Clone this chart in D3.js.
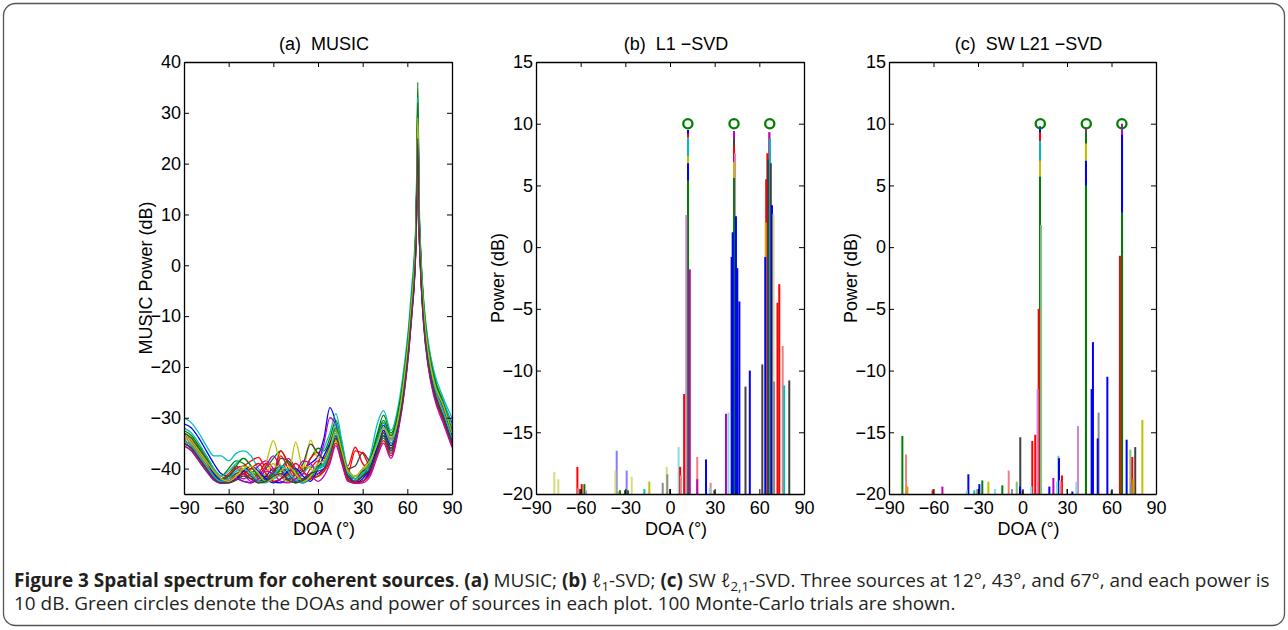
<!DOCTYPE html>
<html><head><meta charset="utf-8">
<script src="https://cdn.jsdelivr.net/npm/d3@7"></script>
<style>body{margin:0;background:#fff}svg{display:block}</style>
</head><body>
<svg id="fig" width="1288" height="630"></svg>
<script>
// ---------------- DATA ----------------
const doaTicks = [-90, -60, -30, 0, 30, 60, 90];
const musicYTicks = [-40, -30, -20, -10, 0, 10, 20, 30, 40];
const powerYTicks = [-20, -15, -10, -5, 0, 5, 10, 15];
const panelTitles = ["(a)  MUSIC", "(b)  L1 \u2212SVD", "(c)  SW L21 \u2212SVD"];
const yLabels = ["MUSIC Power (dB)", "Power (dB)", "Power (dB)"];
const xLabel = "DOA (\u00b0)";
const sourceDOAs = [12, 43, 67];
const sourcePower = [10, 10, 10];

// MUSIC spectrum sampling grid (deg)
const musicGrid = [-90,-85,-80,-75,-70,-65,-60,-55,-50,-45,-40,-35,-30,-25,-20,-15,-10,-5,0,
  4,8,12,16,20, 25,30,35,40, 44,49,54,58,61,63,65,66,67,68,69,71,74,78,84,90];
const musicColorKeys = ["b","g","r","c","m","y","k","b","g","r","c","m","y","k","b","g","r","c","m","y","k"];
const musicTrials = [
 [-31.2,-32,-34,-36.5,-39,-41,-41.5,-40,-39.5,-41,-42.5,-41.5,-40,-41.5,-42.5,-41,-40,-39,-37.5, -34,-28,-31,-37,-41, -42.5,-41,-38,-34, -31.5,-34.5,-29.5,-21.5,-13.5,-6.5,1.5,9.5,30,9.5,1.5,-8.5,-16.5,-22.5,-27,-31],
 [-32.5,-33.5,-35.5,-37.5,-40,-41.5,-40,-38.5,-39,-40.5,-41.5,-40,-38,-36.5,-39,-41,-40.5,-38,-36, -36.5,-34,-30.5,-35,-40.5, -41.5,-40,-38,-33, -29.5,-33,-28.5,-20.5,-12.5,-5.5,2.5,10.5,36,10.5,2.5,-7.5,-15.5,-21.5,-28.5,-32],
 [-34,-35,-37,-39,-41,-42,-41.5,-40,-39.5,-38.5,-37.8,-40,-41,-37.5,-40,-42,-41,-38,-36.8, -38.5,-36,-32.5,-36.5,-39.5, -35.8,-39,-40,-35.5, -33,-36,-31,-23,-15,-8,0,8,29,7,-1,-10,-18,-24,-28.5,-33.5],
 [-30,-31,-33,-35.5,-37.5,-37.5,-38.5,-37,-36.5,-37.5,-40,-41.5,-42,-41,-40,-41.5,-42.5,-41,-39, -36,-33,-29.2,-34.5,-40, -41.5,-40.5,-37.5,-31, -28.6,-32.5,-27.5,-19.5,-11.5,-4,4,12,33,12,3,-7,-15,-21,-26,-30],
 [-34.5,-35.5,-37.5,-39.5,-41.5,-42.5,-42,-41.5,-42,-41,-39.5,-38.5,-40,-41.5,-38,-40,-42.5,-41.5,-39, -35,-30,-31.5,-36.5,-41, -42.5,-42.5,-40,-35.5, -32,-33.5,-30.5,-22.5,-14.5,-7.5,0.5,8.5,31.5,8.5,0,-9.5,-17.5,-23.5,-28.5,-34],
 [-33,-34,-36,-38,-40,-41.5,-42,-41,-40,-41.5,-42,-39,-34.5,-39.5,-41.5,-34.8,-40,-34.4,-38, -38,-35,-32,-36,-40.5, -41.5,-40.5,-38.5,-34.5, -32,-34.5,-30,-22,-14,-7,1,9,28,9,1,-9,-17,-23,-27.5,-32.5],
 [-33.5,-34.5,-36.5,-38.5,-40.5,-42,-42.5,-42,-41,-40,-41,-42,-41,-38,-38.5,-41,-39,-35.2,-37, -38,-35.5,-32.5,-36.5,-40, -39.5,-36.8,-38.5,-34, -31,-34,-29.5,-21.5,-13.5,-6.5,1.5,9.5,27,9.5,1.5,-8.5,-16.5,-22.5,-27.5,-32.5],
 [-35,-36,-38,-40,-42,-42.8,-42.5,-42,-42.5,-42.8,-42,-41.5,-42.5,-42.8,-42,-42.5,-42.8,-42,-41, -40,-37.5,-34,-38,-42, -42.8,-42.5,-40.5,-36, -33.5,-36.5,-31.5,-24,-16,-9,-1,7,26,7,-1,-11,-19,-25,-29.5,-35],
 [-35.5,-36.5,-38.5,-40.5,-42,-42.9,-42.6,-41.5,-41,-42,-42.8,-42.3,-41,-40.5,-42,-42.8,-42.3,-41.5,-41.5, -40.5,-38,-34.5,-38.5,-42.3, -42.9,-42.5,-41,-36.5, -34,-37,-32,-24.5,-16.5,-9.5,-1.5,6.5,25,6.5,-1.5,-11.5,-19.5,-25.5,-30,-35.5],
 [-33,-34,-36,-38,-40.5,-42,-41,-39.5,-40.5,-42,-41,-39,-40.5,-36.5,-39,-41.5,-42,-40,-38.5, -39.5,-37,-33.5,-38,-41, -36.5,-37,-39.5,-35, -32.5,-35,-30.5,-22.5,-14.5,-7.5,0.5,8.5,28,8.5,0.5,-9.5,-17.5,-23.5,-28,-33],
 [-32,-33,-35,-37.5,-40,-41.5,-40.5,-39,-38,-39.5,-41.5,-42.3,-41.5,-40,-41.5,-42.3,-41,-39.5,-40, -39.5,-36.5,-31,-36,-40.5, -42,-41.5,-39,-34, -31,-34,-29,-21,-13,-6,2,10,30,10,2,-8,-16,-22,-26.5,-31.5],
 [-34,-35,-37,-39,-41,-42.3,-41.5,-40,-41,-42.5,-41.5,-39.5,-37.5,-40,-42.3,-41,-38.5,-39,-41, -40.5,-38,-34,-37.5,-41.5, -42.5,-41.5,-40,-35.5, -32.5,-34,-30.5,-22.5,-14.5,-7.5,0.5,8.5,27,8.5,0.5,-9.5,-17.5,-23.5,-28.5,-34.5],
 [-34,-35,-37,-39,-41,-42.5,-42,-40.5,-39.5,-40.5,-42.3,-41,-39,-41.5,-42.5,-41.5,-39.5,-40,-41.5, -40.5,-38,-34.5,-38,-41.5, -42.5,-41,-39.5,-35.5, -33,-35.5,-31,-23.5,-15.5,-8.5,-0.5,7.5,26,7.5,-0.5,-10.5,-18.5,-24.5,-29,-34],
 [-34.5,-35.5,-37.5,-39.5,-41.5,-42.5,-42,-41,-40.5,-41.5,-42.5,-42,-40.5,-39.5,-41,-42.5,-42,-41,-40, -39,-37,-33.5,-37.5,-41.5, -42,-40.5,-39.5,-36, -33,-36.5,-31,-23.5,-15.5,-8.5,-0.5,7.5,26,7.5,-0.5,-10.5,-18.5,-24.5,-29.5,-34.5],
 [-33.5,-34.5,-36.5,-38.5,-41,-42.5,-42.8,-42,-40.5,-39.5,-40.5,-42,-42.8,-42,-40.5,-40,-41.5,-42.5,-40, -37.5,-35,-32.5,-36.5,-41, -42.8,-42,-40,-35.5, -32.5,-35.5,-30.5,-22.5,-14.5,-7.5,0.5,8.5,29,8.5,0.5,-9.5,-17.5,-23.5,-28,-33.5],
 [-33,-34,-36,-38,-40.5,-42,-41.5,-39.5,-38,-39.5,-41.5,-42.5,-42,-40,-38.5,-40.5,-42.5,-42,-39.5, -39,-36,-32,-36,-40.5, -42,-41.5,-38.5,-33.5, -30.5,-33.5,-28.5,-21,-13,-6,2,10,32,10,2,-8,-16,-22,-27,-32.5],
 [-35,-36,-38,-40,-42,-42.8,-42.5,-41.5,-41,-40,-39,-41,-42.5,-42,-41,-39,-40.5,-42,-41.5, -40.5,-38.5,-35,-38.5,-42, -42.8,-42.5,-41,-37, -34.5,-37.5,-32,-24.5,-16.5,-9.5,-1.5,6.5,24,6.5,-1.5,-11.5,-19.5,-25.5,-30.5,-35.5],
 [-34.5,-35.5,-37.5,-39.5,-41.5,-42.5,-42,-40.5,-40,-41,-42.5,-42.8,-41.5,-39.5,-40.5,-42.3,-42.8,-41.5,-40, -39,-37,-33,-37,-41, -42,-41,-39,-34.5, -32,-35,-30,-22.5,-14.5,-7.5,0.5,8.5,28,8.5,0.5,-9.5,-17.5,-23.5,-28.5,-34],
 [-35.5,-36.5,-38.5,-40.5,-42.3,-42.9,-42.5,-42,-42.5,-42.8,-42,-40.5,-41,-42.5,-42.8,-42,-41,-41.5,-42.5, -41.5,-39,-35.5,-39,-42.5, -42.9,-42.8,-41.5,-37.5, -35,-38,-32.5,-25,-17,-10,-2,6,24,6,-2,-12,-20,-26,-31,-35.8],
 [-33.5,-34.5,-36.5,-38.5,-40.5,-42,-42.5,-41.5,-40,-39.5,-41,-42.5,-42,-40.5,-39.5,-41,-42.5,-41.5,-39, -38.5,-36,-32.5,-36.5,-40.5, -41.5,-40,-38.5,-35, -32,-34,-30,-22,-14,-7,1,9,29,9,1,-9,-17,-23,-27.5,-33],
 [-35,-36,-38,-40,-42,-42.8,-42.8,-42.3,-41.5,-42,-42.8,-42.5,-41.5,-41,-42.3,-42.8,-42.3,-41,-40.5, -40,-37.5,-34,-37.5,-41.5, -42.5,-41.5,-40,-36.5, -33.5,-36,-31.5,-24,-16,-9,-1,7,25,7,-1,-11,-19,-25,-30,-35]
];

// L1-SVD spectra: [DOA, power dB, colour key]
const l1Stems = [
 [-77.7,-18.2,"ly"],[-75,-18.8,"ly"],[-62.2,-17.8,"r"],[-61.6,-19.5,"pr"],[-60.4,-19.6,"k"],[-59.3,-19.2,"r"],
 [-57.5,-19.2,"g"],[-56.4,-19.7,"lm"],[-36.7,-18.1,"ly"],[-35.8,-16.5,"lb"],[-34.7,-19.8,"y"],[-33.6,-19.7,"g"],
 [-30.2,-19.7,"k"],[-29.1,-18.1,"lb"],[-28.2,-19.7,"g"],[-25.7,-18.6,"ly"],[-17.2,-19.6,"c"],[-13.9,-19,"y"],
 [-4.9,-19.1,"gr"],[-2.2,-17.8,"ly"],[-1.8,-18.4,"gr"],[0,-19.6,"k"],[5.8,-16.2,"lc"],[6.8,-17.8,"r"],[7.3,-18.5,"pr"],
 [9.5,-11.9,"r"],[10.9,2.6,"lm"],[12.1,9.5,"b"],[12.1,9.2,"r"],[12.1,8.9,"c"],[12.1,7.4,"y"],[12.1,6.8,"b"],[12.1,5.4,"g"],
 [13.3,-1.8,"m"],[18.3,-17,"pr"],[18.3,-18.8,"m"],[24.2,-17.2,"b"],[26.7,-19.5,"lc"],[27.3,-19.1,"pr"],[29.8,-19.7,"k"],
 [37.6,-13.5,"m"],[39.2,-13.4,"lc"],[41.4,-0.8,"b"],[42.1,1.2,"b"],[43,9.4,"m"],[43,8.8,"k"],[43,8.2,"r"],[43,6.9,"y"],
 [43,5.6,"g"],[43.7,7.6,"lm"],[44.3,2.5,"b"],[45.2,-1.7,"b"],[46.6,-4.4,"b"],[50.7,-11.3,"k"],[53.6,-10,"b"],
 [62,-9.5,"k"],[64,-0.8,"b"],[64.3,2,"o"],[64.6,5.5,"r"],[65.4,7.6,"r"],[65.8,7.1,"k"],[66.5,9.3,"pr"],[66.8,9.3,"m"],
 [67.2,8.8,"c"],[67.7,6.8,"k"],[68.5,3.4,"b"],[69.5,2.7,"ly"],[69.9,-10.9,"gr"],[72.2,-4.5,"r"],[73.4,-3,"r"],
 [75.7,-8,"pr"],[76.7,-11.2,"c"],[80.1,-10.8,"k"]
];

// SW L21-SVD spectra: [DOA, power dB, colour key]
const swStems = [
 [-81,-15.3,"g"],[-78.5,-16.8,"pr"],[-77.6,-19.4,"o"],[-60.6,-19.7,"r"],[-60.3,-19.6,"gr"],[-54,-19.4,"m"],
 [-37.6,-19.7,"lc"],[-36.5,-18.4,"b"],[-32.5,-19.7,"c"],[-30.5,-19.6,"gr"],[-29.1,-19.2,"b"],[-27.1,-18.9,"g"],
 [-23,-19,"y"],[-18.5,-19.6,"lc"],[-13.6,-19.3,"g"],[-9.3,-18.1,"pr"],[-7.1,-19.6,"gr"],[-3.9,-19,"lg"],
 [-1.7,-19.4,"b"],[-1.5,-15.4,"k"],[0.1,-19.7,"k"],[5.9,-19.4,"lc"],[6.6,-15.7,"r"],[8.6,-15.2,"r"],
 [10.2,-11.5,"lm"],[10.9,-5,"r"],[11.8,9.8,"b"],[11.8,9.3,"r"],[11.8,8.6,"c"],[11.8,7.0,"y"],[11.8,5.7,"g"],
 [12.5,1.8,"lg"],[18.1,-19.4,"b"],[20.8,-18.7,"m"],[23.3,-19,"lc"],[24.2,-16.9,"lg"],[24.6,-17.1,"b"],
 [25.3,-18.9,"lc"],[25.7,-19,"pr"],[26.6,-18.5,"r"],[30,-19.6,"gr"],[33.6,-19.8,"b"],[36.3,-19,"lc"],
 [37.4,-14.5,"lm"],[42.8,9.6,"m"],[42.8,9.3,"g"],[42.8,8.4,"y"],[42.8,7,"b"],[42.8,5,"g"],
 [46.6,-11.5,"b"],[47.5,-7.7,"b"],[50.7,-15.5,"b"],[51.3,-13.4,"gr"],[57.2,-10.5,"b"],[60.1,-19.7,"k"],
 [65.7,-0.7,"r"],[67.1,10,"m"],[67.1,9.1,"b"],[67.1,2.8,"g"],[70.2,-15.6,"b"],[72.7,-16.4,"lg"],
 [73.1,-19.1,"gr"],[74,-17,"r"],[74.7,-18.8,"o"],[76,-16.2,"k"],[80.8,-14,"y"]
];

// ---------------- STYLE ----------------
const colorMap = {
  b:"#0000ff", g:"#008000", r:"#ff0000", c:"#00bfbf", m:"#bf00bf", y:"#bfbf00", k:"#404040",
  pr:"#f08080", lb:"#7f7fff", lc:"#80e0e0", lm:"#d980d9", ly:"#d9d980", lg:"#80c080", gr:"#8c8c8c", o:"#d9a000"
};
const tickFont = "'Liberation Sans', Arial, Helvetica, sans-serif";
const panels = [
  {left:184, right:452, yDomain:[-45,40], yTicks:musicYTicks},
  {left:536, right:804, yDomain:[-20,15], yTicks:powerYTicks},
  {left:889, right:1156, yDomain:[-20,15], yTicks:powerYTicks}
];
const plotTop = 62, plotBottom = 494;

const svg = d3.select("#fig");
svg.append("rect").attr("width",1288).attr("height",630).attr("fill","#fff");
svg.append("rect").attr("x",3.5).attr("y",3.5).attr("width",1281).attr("height",622)
  .attr("rx",12).attr("fill","none").attr("stroke","#555").attr("stroke-width",1.3);

panels.forEach((p, i) => {
  const x = d3.scaleLinear().domain([-90,90]).range([p.left,p.right]);
  const y = d3.scaleLinear().domain(p.yDomain).range([plotBottom, plotTop]);
  const g = svg.append("g");
  const clipId = "clip"+i;
  g.append("clipPath").attr("id",clipId).append("rect")
    .attr("x",p.left).attr("y",plotTop).attr("width",p.right-p.left).attr("height",plotBottom-plotTop);
  const plot = g.append("g").attr("clip-path",`url(#${clipId})`);

  if (i === 0) {
    const line = d3.line().x(d=>x(d[0])).y(d=>y(d[1])).curve(d3.curveMonotoneX);
    musicTrials.forEach((vals, k) => {
      const pts = musicGrid.map((d, j) => [d, vals[j]]).filter(d => d[1] !== undefined);
      plot.append("path").attr("d", line(pts)).attr("fill","none")
        .attr("stroke", colorMap[musicColorKeys[k % musicColorKeys.length]]).attr("stroke-width",1.3);
    });
  } else {
    const stems = (i === 1 ? l1Stems : swStems).slice().sort((a,b)=>b[1]-a[1]);
    plot.selectAll("line.stem").data(stems).join("line").attr("class","stem")
      .attr("x1",d=>x(d[0])).attr("x2",d=>x(d[0]))
      .attr("y1",y(-20)).attr("y2",d=>y(d[1]))
      .attr("stroke",d=>colorMap[d[2]]).attr("stroke-width",2);
    g.selectAll("circle.src").data(sourceDOAs).join("circle").attr("class","src")
      .attr("cx",d=>x(d)).attr("cy",(d,k)=>y(sourcePower[k])).attr("r",4.6)
      .attr("fill","none").attr("stroke","#008000").attr("stroke-width",2.3);
  }

  const fmt = d3.format("d");
  const ax = [
    g.append("g").attr("transform",`translate(0,${plotBottom})`)
      .call(d3.axisBottom(x).tickValues(doaTicks).tickSizeInner(-5).tickSizeOuter(0).tickPadding(7).tickFormat(fmt)),
    g.append("g").attr("transform",`translate(0,${plotTop})`)
      .call(d3.axisTop(x).tickValues(doaTicks).tickSizeInner(-5).tickSizeOuter(0).tickFormat("")),
    g.append("g").attr("transform",`translate(${p.left},0)`)
      .call(d3.axisLeft(y).tickValues(p.yTicks).tickSizeInner(-5).tickSizeOuter(0).tickPadding(3).tickFormat(fmt)),
    g.append("g").attr("transform",`translate(${p.right},0)`)
      .call(d3.axisRight(y).tickValues(p.yTicks).tickSizeInner(-5).tickSizeOuter(0).tickFormat(""))
  ];
  ax.forEach(a => {
    a.select(".domain").attr("stroke","#000").attr("stroke-width",1.3);
    a.selectAll(".tick line").attr("stroke","#000").attr("stroke-width",1);
    a.selectAll("text").attr("font-family",tickFont).attr("font-size",18).attr("fill","#000");
  });

  const cx = (p.left+p.right)/2;
  g.append("text").attr("x",cx+6).attr("y",50).attr("text-anchor","middle").style("white-space","pre")
    .attr("font-family",tickFont).attr("font-size",18).text(panelTitles[i]);
  g.append("text").attr("x",cx+6).attr("y",535).attr("text-anchor","middle")
    .attr("font-family",tickFont).attr("font-size",18).text(xLabel);
  g.append("text").attr("transform",`translate(${p.left-32},${(plotTop+plotBottom)/2}) rotate(-90)`)
    .attr("text-anchor","middle").attr("font-family",tickFont).attr("font-size",18).text(yLabels[i]);
});

// ---------------- CAPTION ----------------
const capFont = "'Open Sans', 'Noto Sans', sans-serif";
const cap1 = svg.append("text").attr("x",14).attr("y",587).attr("font-family",capFont).attr("fill","#231f20");
const parts1 = [
  ["Figure 3 Spatial spectrum for coherent sources","b"],[". ",""],["(a)","b"],[" MUSIC; ",""],["(b)","b"],
  [" \u2113",""],["1","sub"],["-SVD; ",""],["(c)","b"],[" SW \u2113",""],["2,1","sub"],
  ["-SVD. Three sources at 12\u00b0, 43\u00b0, and 67\u00b0, and each power is",""]
];
const cap2 = svg.append("text").attr("x",14).attr("y",610).attr("font-family",capFont).attr("fill","#231f20")
  .text("10 dB. Green circles denote the DOAs and power of sources in each plot. 100 Monte-Carlo trials are shown.");
function buildCap(fs){
  cap1.selectAll("*").remove();
  cap1.attr("font-size",fs);
  let prevSub=false;
  parts1.forEach(([t,s]) => {
    const ts = cap1.append("tspan").text(t);
    if (s==="b") ts.attr("font-weight","bold");
    if (s==="sub") { ts.attr("font-size",fs*0.7).attr("dy",fs*0.22); prevSub=true; }
    else if (prevSub) { ts.attr("dy",-fs*0.22); prevSub=false; }
  });
  cap2.attr("font-size",fs);
}
buildCap(15);
const w = cap1.node().getComputedTextLength();
buildCap(15 * 1256 / w);
</script>
</body></html>
